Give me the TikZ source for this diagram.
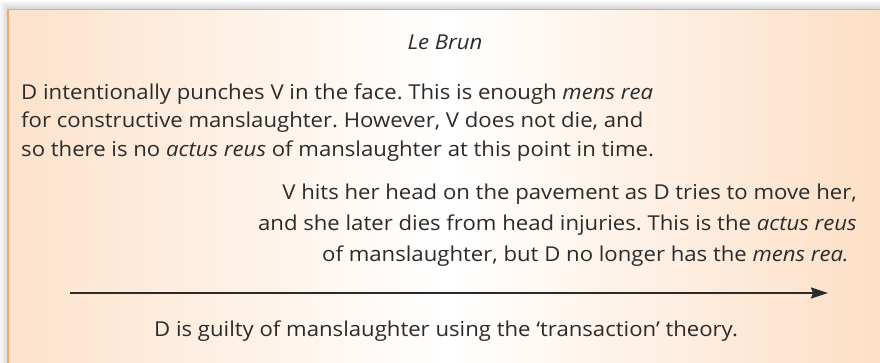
\documentclass[tikz,border=0pt]{standalone}
\usepackage{fontspec}
\setmainfont{Open Sans}[FakeStretch=1.08]
\usetikzlibrary{arrows.meta}
\frenchspacing

\definecolor{boxorange}{HTML}{FCD6B6}
\definecolor{boxline}{HTML}{F9A46C}
\definecolor{inkgray}{HTML}{2B2B2B}
\pgfdeclarehorizontalshading{boxfade}{100bp}{color(0bp)=(boxorange); color(20bp)=(boxorange!85!white); color(50bp)=(white); color(75bp)=(boxorange!80!white); color(100bp)=(boxorange)}

\begin{document}
\begin{tikzpicture}[
    x=1pt, y=-1pt,
    txt/.style={inner sep=0pt, text=inkgray, font=\fontsize{20.5}{28.5}\selectfont},
    arr/.style={-{Stealth[length=17pt, width=11pt, inset=2pt]}, line width=2pt, draw=inkgray}
]
\useasboundingbox (0,0) rectangle (880,363);
\clip (0,0) rectangle (880,363);

% soft shadow on the top and left
\foreach \k in {1,...,8}
    \fill[black, opacity=0.018] (8-\k,9.5-\k) rectangle (890,373);

% case box
\draw[boxline, line width=1.6pt, shading=boxfade] (8,9.5) rectangle (890,375);

% case name
\node[txt, anchor=base] (title) at (445,50) {\itshape Le Brun};

% first event (base = last line)
\node[txt, anchor=base west, align=left] (punch) at (21,156.3)
    {D intentionally punches V in the face. This is enough \emph{mens rea}\\
     for constructive manslaughter. However, V does not die, and\\
     so there is no \emph{actus reus} of manslaughter at this point in time.};

% second event
\node[txt, anchor=base east, align=right, font=\fontsize{20.5}{31.2}\selectfont] (injury) at (857,261.7)
    {V hits her head on the pavement as D tries to move her,\\
     and she later dies from head injuries. This is the \emph{actus reus}\\
     of manslaughter, but D no longer has the \emph{mens rea.}\hspace*{8pt}};

% time line
\coordinate (tstart) at (70,293);
\coordinate (tend) at (828,293);
\draw[arr] (tstart) -- (tend);

% verdict
\node[txt, anchor=base] (verdict) at (446,336.7)
    {D is guilty of manslaughter using the ‘transaction’ theory.};
\end{tikzpicture}
\end{document}
